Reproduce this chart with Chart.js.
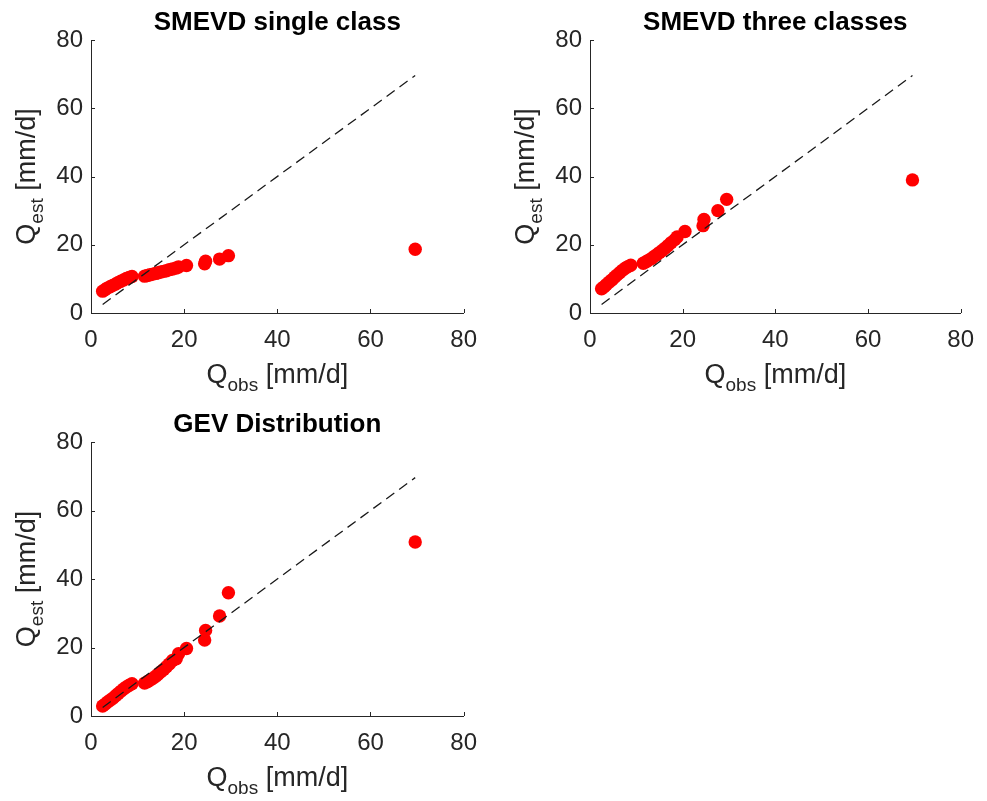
<!DOCTYPE html>
<html>
<head>
<meta charset="utf-8">
<script src="https://cdn.jsdelivr.net/npm/chart.js@4.4.1/dist/chart.umd.min.js"></script>
<style>
  html, body { margin: 0; padding: 0; background: #fff; }
  #wrap { position: relative; width: 987px; height: 801px; background: #fff; }
  canvas { position: absolute; }
</style>
</head>
<body>
<div id="wrap">
  <canvas id="single" width="490" height="400" style="left:0;top:0"></canvas>
  <canvas id="three" width="490" height="400" style="left:497px;top:0"></canvas>
  <canvas id="gev" width="490" height="401" style="left:0;top:400px"></canvas>
</div>
<script>
// observed daily maxima, sorted [mm/d]
const qObs = [2.5, 3.0, 3.5, 4.1, 4.7, 5.3, 5.8, 6.4, 7.0, 7.6, 8.2, 8.8,
  11.5, 12.1, 12.7, 13.3, 13.9, 14.4, 15.0, 15.6, 16.2, 16.8, 17.5, 18.3, 18.8, 20.5,
  24.4, 24.6, 27.6, 29.5, 69.6];

// estimated quantiles [mm/d]
const qEstSingle = [6.4, 6.8, 7.3, 7.7, 8.1, 8.5, 8.9, 9.3, 9.7, 10.1, 10.4, 10.7,
  10.8, 11.0, 11.2, 11.4, 11.6, 11.8, 12.0, 12.2, 12.4, 12.7, 12.9, 13.2, 13.5, 13.9,
  14.4, 15.2, 15.8, 16.8, 18.7];
const qEstThree = [7.1, 7.6, 8.3, 9.0, 9.7, 10.5, 11.1, 11.8, 12.5, 13.1, 13.6, 14.0,
  14.6, 15.0, 15.5, 16.0, 16.6, 17.1, 17.7, 18.3, 19.0, 19.7, 20.6, 21.5, 22.3, 23.9,
  25.6, 27.4, 30.0, 33.3, 39.0];
const qEstGev = [2.9, 3.4, 4.0, 4.6, 5.2, 5.9, 6.5, 7.2, 7.9, 8.5, 9.0, 9.4,
  9.6, 10.0, 10.5, 11.0, 11.6, 12.2, 12.9, 13.6, 14.4, 15.2, 16.2, 16.7, 18.2, 19.7,
  22.2, 25.0, 29.2, 36.0, 50.8];

const axisTicks = [0, 20, 40, 60, 80];
const axisColor = '#262626';
const fontFamily = '"Liberation Sans", Arial, sans-serif';

// writes "Q" + subscript + rest, centred on (x, y) baseline
function subLabel(ctx, main, sub, rest, x, y) {
  ctx.font = '27px ' + fontFamily;
  const w1 = ctx.measureText(main).width;
  const w3 = ctx.measureText(rest).width;
  ctx.font = '19px ' + fontFamily;
  const w2 = ctx.measureText(sub).width;
  let left = x - (w1 + w2 + w3) / 2;
  ctx.textAlign = 'left';
  ctx.font = '27px ' + fontFamily;
  ctx.fillText(main, left, y);
  ctx.font = '19px ' + fontFamily;
  ctx.fillText(sub, left + w1, y + 8);
  ctx.font = '27px ' + fontFamily;
  ctx.fillText(rest, left + w1 + w2, y);
}

// title, axis labels and inward tick marks
const panelText = {
  id: 'panelText',
  afterDraw(chart, args, opts) {
    const { ctx, chartArea: a, scales: { x, y } } = chart;
    const cx = (a.left + a.right) / 2;
    const cy = (a.top + a.bottom) / 2;
    ctx.save();

    ctx.strokeStyle = axisColor;
    ctx.lineWidth = 1;
    ctx.beginPath();
    axisTicks.forEach(v => {
      const px = Math.round(x.getPixelForValue(v)) + 0.5;
      ctx.moveTo(px, a.bottom);
      ctx.lineTo(px, a.bottom - 4);
      const py = Math.round(y.getPixelForValue(v)) + 0.5;
      ctx.moveTo(a.left, py);
      ctx.lineTo(a.left + 4, py);
    });
    ctx.stroke();

    ctx.fillStyle = '#000';
    ctx.font = 'bold 26px ' + fontFamily;
    ctx.textAlign = 'center';
    ctx.textBaseline = 'alphabetic';
    ctx.fillText(opts.title, cx, a.top - 10);

    ctx.fillStyle = axisColor;
    subLabel(ctx, 'Q', 'obs', ' [mm/d]', cx, a.bottom + 70);
    ctx.translate(a.left - 56, cy);
    ctx.rotate(-Math.PI / 2);
    subLabel(ctx, 'Q', 'est', ' [mm/d]', 0, 0);
    ctx.restore();
  }
};

function axis(fitKey, fitSize, pad) {
  return {
    type: 'linear',
    min: 0,
    max: 80,
    afterBuildTicks: s => { s.ticks = axisTicks.map(v => ({ value: v })); },
    afterFit: s => { s[fitKey] = fitSize; },
    grid: { display: false, drawTicks: false },
    border: { display: true, color: axisColor, width: 1 },
    ticks: {
      color: axisColor,
      padding: pad,
      maxRotation: 0,
      font: { family: fontFamily, size: 24 }
    }
  };
}

function panel(id, title, est, yWidth, xHeight, top) {
  const points = qObs.map((v, i) => ({ x: v, y: est[i] }));
  const lo = Math.min(...qObs), hi = Math.max(...qObs);
  new Chart(document.getElementById(id), {
    type: 'scatter',
    data: {
      datasets: [
        {
          type: 'line',
          data: [{ x: lo, y: lo }, { x: hi, y: hi }],
          borderColor: '#1a1a1a',
          borderWidth: 1.3,
          borderDash: [10, 6],
          pointRadius: 0,
          fill: false
        },
        {
          data: points,
          pointRadius: 6.7,
          pointBackgroundColor: '#ff0000',
          pointBorderWidth: 0
        }
      ]
    },
    options: {
      responsive: false,
      animation: false,
      layout: { padding: { top: top, right: 21, left: 0, bottom: 0 } },
      scales: {
        x: axis('height', xHeight, 13),
        y: axis('width', yWidth, 8)
      },
      plugins: {
        legend: { display: false },
        tooltip: { enabled: false },
        panelText: { title: title }
      }
    },
    plugins: [panelText]
  });
}

panel('single', 'SMEVD single class', qEstSingle, 91, 87, 40);
panel('three', 'SMEVD three classes', qEstThree, 93, 87, 40);
panel('gev', 'GEV Distribution', qEstGev, 91, 85, 42);
</script>
</body>
</html>
